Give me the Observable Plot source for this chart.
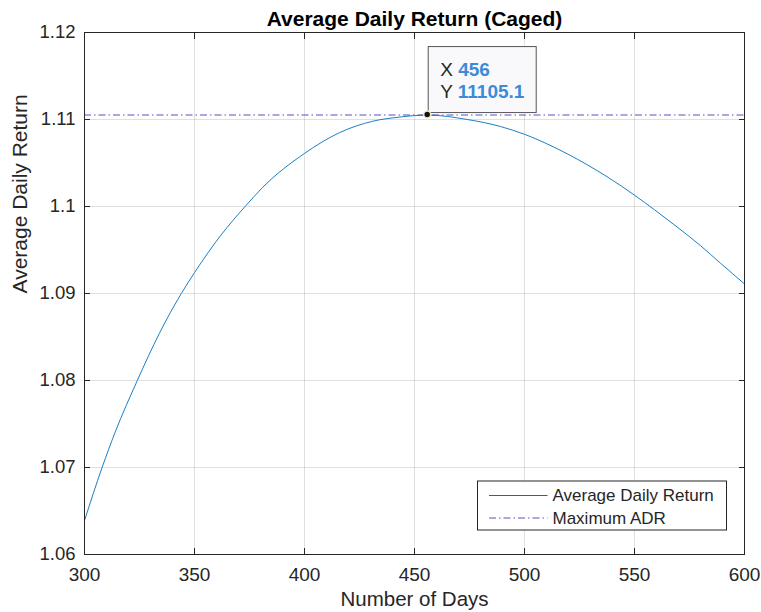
<!DOCTYPE html>
<html><head><meta charset="utf-8">
<script src="https://cdn.jsdelivr.net/npm/d3@7"></script>
<script src="https://cdn.jsdelivr.net/npm/@observablehq/plot@0.6"></script>
<style>body{margin:0;background:#fff}</style>
</head><body><div id="chart"></div>
<script>
const days = [300, 308, 314, 324, 334, 344, 350, 362, 373, 381, 400, 416, 431, 444, 450, 456, 474, 489, 500, 513, 528, 538, 550, 559, 568, 580, 589, 600];
const adr  = [1.0639, 1.0700, 1.0741, 1.0800, 1.0854, 1.0900, 1.0924, 1.0967, 1.1000, 1.1022, 1.1061, 1.1085, 1.1098, 1.1103, 1.11045, 1.11051, 1.1100, 1.1092, 1.1083, 1.10687, 1.10487, 1.10335, 1.1013, 1.09964, 1.09791, 1.0955, 1.0935, 1.0911];
const xTicks = [300, 350, 400, 450, 500, 550, 600];
const yTicks = [1.06, 1.07, 1.08, 1.09, 1.1, 1.11, 1.12];
const maxDay = 456;
const maxADR = 1.11051;
const tipNames = ["X", "Y"];
const tipValues = ["456", "11105.1"];
const seriesNames = ["Average Daily Return", "Maximum ADR"];
const titleText = "Average Daily Return (Caged)";
const xLabel = "Number of Days";
const yLabel = "Average Daily Return";

const data = days.map((d, i) => ({day: d, adr: adr[i]}));
const font = "'Liberation Sans', Arial, Helvetica, sans-serif";
const ink = "#262626";
const lineColor = "#0072BD";
const maxColor = "#5e4fc2";
const dash = "7,3,1.5,3";

const plot = Plot.plot({
  width: 761, height: 612,
  marginLeft: 84, marginRight: 17, marginTop: 32, marginBottom: 58,
  style: {fontFamily: font, background: "#fff", color: ink, overflow: "visible"},
  x: {domain: [300, 600], label: null},
  y: {domain: [1.06, 1.12], label: null},
  marks: [
    Plot.gridX(xTicks, {stroke: "#000", strokeOpacity: 0.12}),
    Plot.gridY(yTicks, {stroke: "#000", strokeOpacity: 0.12}),
    Plot.ruleY([maxADR], {stroke: maxColor, strokeWidth: 1.1, strokeDasharray: dash}),
    Plot.line(data, {x: "day", y: "adr", stroke: lineColor, strokeWidth: 0.9, curve: "monotone-x"}),
    Plot.axisX(xTicks, {anchor: "bottom", tickSize: -6, tickFormat: () => "", stroke: ink, label: null}),
    Plot.axisX(xTicks, {anchor: "top", tickSize: -6, tickFormat: () => "", stroke: ink, label: null}),
    Plot.axisY(yTicks, {anchor: "left", tickSize: -6, tickFormat: () => "", stroke: ink, label: null}),
    Plot.axisY(yTicks, {anchor: "right", tickSize: -6, tickFormat: () => "", stroke: ink, label: null}),
    Plot.axisX(xTicks, {anchor: "bottom", tickSize: 0, tickPadding: 12.5, fontSize: 19, fill: ink, tickFormat: d => String(d), label: null}),
    Plot.axisY(yTicks, {anchor: "left", tickSize: 0, tickPadding: 9, fontSize: 18.5, fill: ink, tickFormat: d => String(+d.toFixed(2)), label: null}),
    Plot.frame({stroke: ink, strokeWidth: 1}),
    Plot.text([titleText], {frameAnchor: "top", lineAnchor: "middle", dy: -13.7, fontWeight: "bold", fontSize: 21, fill: "#000"}),
    Plot.text([xLabel], {frameAnchor: "bottom", lineAnchor: "middle", dy: 45.4, fontSize: 20.5, fill: ink}),
    Plot.text([yLabel], {frameAnchor: "left", lineAnchor: "middle", dx: -64, rotate: -90, fontSize: 21, fill: ink})
  ]
});
document.getElementById("chart").appendChild(plot);

const svg = d3.select(plot);
const px = plot.scale("x").apply(maxDay);
const py = plot.scale("y").apply(maxADR);

// data tip
const tip = svg.append("g").attr("font-family", font).attr("text-anchor", "start");
tip.append("rect").attr("x", px + 1).attr("y", py - 68).attr("width", 108).attr("height", 66)
  .attr("fill", "#f9f9fb").attr("stroke", "#555").attr("stroke-width", 1);
tipNames.forEach((n, i) => {
  const t = tip.append("text").attr("x", px + 13).attr("y", py - 39 + i * 22).attr("font-size", 19);
  t.append("tspan").attr("fill", ink).text(n + " ");
  t.append("tspan").attr("fill", "#3b8bd9").attr("font-weight", "bold").text(tipValues[i]);
});
tip.append("circle").attr("cx", px).attr("cy", py).attr("r", 3.5)
  .attr("fill", "#111").attr("stroke", "#f3eec4").attr("stroke-width", 1.5);

// legend
const xr = plot.scale("x").range;
const yr = plot.scale("y").range;
const right = Math.max(...xr), bottom = Math.max(...yr);
const lg = svg.append("g").attr("font-family", font).attr("text-anchor", "start");
const lx = right - 266.5, ly = bottom - 73;
lg.append("rect").attr("x", lx).attr("y", ly).attr("width", 249).attr("height", 49)
  .attr("fill", "#fff").attr("stroke", ink).attr("stroke-width", 1);
seriesNames.forEach((name, i) => {
  const yy = ly + 14.5 + i * 22.5;
  lg.append("line").attr("x1", lx + 11.5).attr("x2", lx + 70).attr("y1", yy).attr("y2", yy)
    .attr("stroke", i === 0 ? lineColor : maxColor).attr("stroke-width", 1)
    .attr("stroke-dasharray", i === 0 ? null : dash);
  lg.append("text").attr("x", lx + 75).attr("y", yy).attr("dy", "0.35em")
    .attr("font-size", 17).attr("fill", ink).text(name);
});
</script>
</body></html>
